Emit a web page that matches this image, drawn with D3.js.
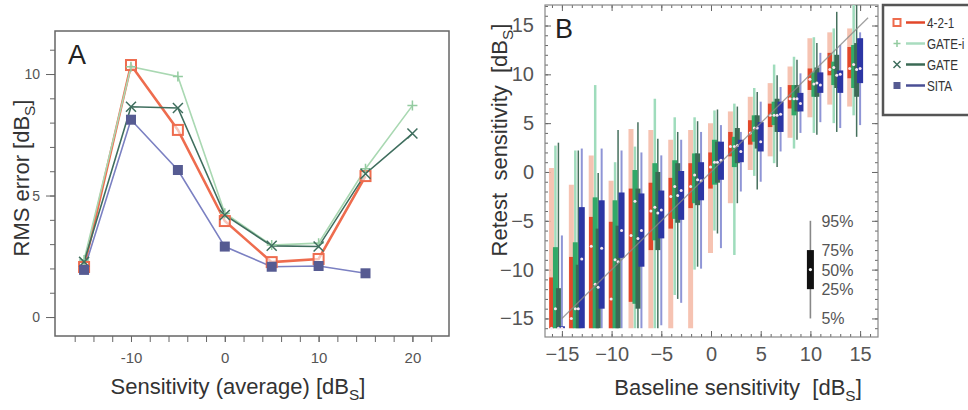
<!DOCTYPE html>
<html lang="en">
<head>
<meta charset="UTF-8">
<title>RMS error and retest sensitivity</title>
<script src="https://d3js.org/d3.v7.min.js"></script>
<style>
  body { margin: 0; background: #fff; font-family: "Liberation Sans", Arial, sans-serif; }
  svg text { white-space: pre; }
  .tick line { stroke: #666; }
  .tick text { fill: #555; }
</style>
</head>
<body>
<svg id="chart" width="968" height="410"></svg>
<script>
// ---- panel A data: RMS error vs average sensitivity ----
const rmsX = [-15, -10, -5, 0, 5, 10, 15, 20];
const rms421 = [2.06, 10.37, 7.7, 3.95, 2.26, 2.39, 5.8, null];
const rmsGateI = [2.35, 10.3, 9.9, 4.27, 2.96, 3.04, 6.1, 8.7];
const rmsGate = [2.27, 8.65, 8.6, 4.2, 2.93, 2.9, 5.9, 7.55];
const rmsSita = [1.94, 8.12, 6.05, 2.9, 2.07, 2.1, 1.8, null];
const rmsYTicks = [0, 5, 10];
const rmsXTicks = [-10, 0, 10, 20];

// ---- panel B data: retest percentiles [5%, 25%, 50%, 75%, 95%] per baseline bin ----
const baseline = [-15.5, -13.5, -11.5, -9.5, -7.5, -5.5, -3.5, -1.5, 0.5, 2.5, 4.5, 6.5, 8.5, 10.5, 12.5, 14.5];
const box421 = [
  [-16, -16, -16, -10.8, 0.4], [-16, -16, -15, -8.7, -1.3], [-16, -16, -7.6, -4.6, 1.7], [-16, -16, -13, -5.1, -0.9],
  [-16, -13.3, -6.5, -1.7, 4.4], [-16, -8, -4, -1.1, 4.3], [-16, -5.8, -2.5, -0.6, 3.3], [-16, -3.7, -1.5, 0.9, 4.3],
  [-8.3, -1.7, 0.5, 2.0, 5.0], [-3.2, 1.6, 2.6, 4.1, 6.2], [0.2, 2.8, 4.0, 5.3, 7.7], [1.6, 4.6, 5.8, 7.0, 9.1],
  [3.5, 6.5, 7.5, 8.9, 10.8], [5.6, 8.4, 9.5, 10.6, 13.7], [6.9, 9.9, 10.5, 12.2, 14.3], [6.7, 9.6, 10.6, 12.8, 14.7]
];
const boxGateI = [
  [-16, -16, -14, -7.7, 2.7], [-16, -16, -14, -7.2, 2.2], [-16, -16, -11.5, -2.6, 8.9], [-16, -16, -9, -2.9, 1.0],
  [-16, -13.5, -3, 0.2, 2.6], [-16, -7, -3.6, 0.9, 7.5], [-12.6, -4.8, -1.5, 1.2, 5.6], [-10, -3.2, -0.3, 1.9, 5.6],
  [-6, -1.3, 1.0, 3.3, 6.3], [-8.5, 0.5, 2.6, 3.6, 7.0], [-0.4, 3.1, 4.5, 5.8, 8.6], [0.9, 4.8, 5.8, 7.2, 11.0],
  [2.4, 5.8, 7.5, 8.9, 11.8], [4.0, 7.7, 9.0, 10.2, 13.8], [5.0, 8.9, 10.7, 11.3, 14.7], [5.8, 8.6, 11.0, 13.0, 17.5]
];
const boxGate = [
  [-16, -16, -16, -11.9, 3.0], [-16, -16, -14, -9.5, 2.2], [-16, -16, -11.8, -5.8, -0.1], [-16, -16, -9.2, -5.5, 4.3],
  [-16, -14, -6.8, -1.7, 5.1], [-16, -8, -4.2, 0, 3.4], [-13, -5.2, -2.4, 0.9, 4.1], [-9.7, -3.4, -0.8, 1.9, 5.2],
  [-6.3, -1.1, 1.0, 3.1, 6.4], [-3.2, 0.9, 2.7, 4.5, 6.7], [-1.8, 2.4, 4.5, 5.8, 8.2], [0.5, 4.1, 5.8, 7.5, 9.9],
  [3.3, 6.2, 7.5, 8.9, 11.5], [3.8, 7.7, 9.1, 10.7, 13.2], [4.1, 8.6, 9.9, 12.0, 16.4], [3.6, 7.7, 10.5, 13.2, 17.5]
];
const boxSita = [
  [-16, -16, -16, -15.8, -6.5], [-16, -16, -8.9, -3.6, 2.4], [-16, -14, -7.8, -2.9, 2.4], [-16, -8.8, -6.0, -2.1, 2.2],
  [-16, -9.7, -6.0, -2.2, 2.0], [-15.7, -6.8, -3.9, -1.9, 1.7], [-13.4, -4.9, -1.9, 0.1, 3.3], [-9.9, -2.9, -0.9, 1.0, 4.1],
  [-7.8, -0.8, 1.2, 3.1, 4.8], [-2.0, 1.0, 2.1, 3.3, 4.1], [-1.0, 2.1, 3.1, 5.1, 7.2], [2.1, 4.1, 5.9, 7.2, 8.7],
  [4.0, 6.2, 7.0, 8.1, 10.1], [5.1, 8.1, 8.9, 10.2, 12.2], [4.5, 8.1, 10.0, 10.4, 13.0], [4.8, 9.1, 10.6, 13.7, 14.3]
];
const retestTicks = [-15, -10, -5, 0, 5, 10, 15];
const keyPercent = ["5%", "25%", "50%", "75%", "95%"];
const keyValues = [-15, -12, -10, -8, -5];

const methods = ["4-2-1", "GATE-i", "GATE", "SITA"];

const svg = d3.select("#chart");

// subscript helper for the "dB_S" unit
function unitLabel(sel, before) {
  sel.append("tspan").text(before + "[dB");
  sel.append("tspan").attr("font-size", "0.7em").attr("dy", 6).text("S");
  sel.append("tspan").attr("dy", -6).text("]");
}

// ================= panel A =================
const xA = d3.scaleLinear().domain([-18.1, 23.9]).range([55, 449]);
const yA = d3.scaleLinear().domain([-0.78, 11.77]).range([336, 31]);
const gA = svg.append("g");

gA.append("rect").attr("x", 55).attr("y", 31).attr("width", 394).attr("height", 305)
  .attr("fill", "none").attr("stroke", "#666").attr("stroke-width", 1.5);

gA.append("g").attr("transform", "translate(55,0)")
  .call(d3.axisLeft(yA).tickValues(d3.range(0, 12)).tickSize(5).tickFormat(""))
  .call(g => g.select(".domain").remove());
gA.append("g").attr("transform", "translate(55,0)")
  .call(d3.axisLeft(yA).tickValues(rmsYTicks).tickSize(9).tickPadding(6))
  .call(g => g.select(".domain").remove())
  .selectAll("text").attr("font-size", 14);

gA.append("g").attr("transform", "translate(0,336)")
  .call(d3.axisBottom(xA).tickValues(d3.range(-16, 23, 2)).tickSize(6).tickFormat(""))
  .call(g => g.select(".domain").remove());
gA.append("g").attr("transform", "translate(0,336)")
  .call(d3.axisBottom(xA).tickValues(rmsXTicks).tickSize(6).tickPadding(10).tickFormat(d => String(d)))
  .call(g => g.select(".domain").remove())
  .selectAll("text").attr("font-size", 15);

const seriesA = [
  { name: "4-2-1", vals: rms421, line: "#ee6c4e", width: 2.6, marker: "osq", mcol: "#ee6c4e" },
  { name: "GATE-i", vals: rmsGateI, line: "#a9d8b2", width: 1.6, marker: "plus", mcol: "#93cba0" },
  { name: "GATE", vals: rmsGate, line: "#3f6e5e", width: 1.6, marker: "cross", mcol: "#3f6e5e" },
  { name: "SITA", vals: rmsSita, line: "#7b80c2", width: 1.6, marker: "fsq", mcol: "#565b92" }
];

const lineA = d3.line().defined(d => d[1] != null).x(d => xA(d[0])).y(d => yA(d[1]));

function drawMarker(g, type, x, y, col, s) {
  if (type === "osq") {
    g.append("rect").attr("x", x - s / 2).attr("y", y - s / 2).attr("width", s).attr("height", s)
      .attr("fill", "#fff").attr("fill-opacity", 0.6).attr("stroke", col).attr("stroke-width", 2);
  } else if (type === "fsq") {
    g.append("rect").attr("x", x - s / 2).attr("y", y - s / 2).attr("width", s).attr("height", s)
      .attr("fill", col);
  } else if (type === "plus") {
    g.append("path").attr("d", `M${x - s / 2},${y}H${x + s / 2}M${x},${y - s / 2}V${y + s / 2}`)
      .attr("stroke", col).attr("stroke-width", 1.5);
  } else {
    const h = s / 2;
    g.append("path").attr("d", `M${x - h},${y - h}L${x + h},${y + h}M${x - h},${y + h}L${x + h},${y - h}`)
      .attr("stroke", col).attr("stroke-width", 1.5);
  }
}

seriesA.forEach(s => {
  const pts = rmsX.map((x, i) => [x, s.vals[i]]);
  gA.append("path").datum(pts).attr("d", lineA)
    .attr("fill", "none").attr("stroke", s.line).attr("stroke-width", s.width);
});
seriesA.forEach(s => {
  rmsX.forEach((x, i) => {
    if (s.vals[i] == null) return;
    drawMarker(gA, s.marker, xA(x), yA(s.vals[i]), s.mcol, 10);
  });
});

gA.append("text").attr("x", 68).attr("y", 64).attr("font-size", 27).attr("fill", "#222").text("A");

gA.append("text").attr("transform", "translate(29,178) rotate(-90)")
  .attr("text-anchor", "middle").attr("font-size", 22).attr("fill", "#333")
  .call(t => unitLabel(t, "RMS error "));
gA.append("text").attr("x", 238).attr("y", 394)
  .attr("text-anchor", "middle").attr("font-size", 22).attr("fill", "#333")
  .call(t => unitLabel(t, "Sensitivity (average) "));

// ================= panel B =================
const xB = d3.scaleLinear().domain([-16.7, 16.8]).range([545, 878]);
const yB = d3.scaleLinear().domain([-16.9, 17.1]).range([337, 5]);
const gB = svg.append("g");

svg.append("defs").append("clipPath").attr("id", "clipB")
  .append("rect").attr("x", 545).attr("y", 5).attr("width", 333).attr("height", 332);

const minorY = d3.range(-16, 18);
const minorX = d3.range(-16, 17);
function frameAxis(axis, tf, vals, size) {
  gB.append("g").attr("transform", tf)
    .call(axis.tickValues(vals).tickSize(size).tickFormat(""))
    .call(g => g.select(".domain").remove())
    .selectAll("line").attr("stroke", "#888");
}
frameAxis(d3.axisLeft(yB), "translate(545,0)", minorY, -3);
frameAxis(d3.axisLeft(yB), "translate(545,0)", retestTicks, -6);
frameAxis(d3.axisRight(yB), "translate(878,0)", minorY, -3);
frameAxis(d3.axisRight(yB), "translate(878,0)", retestTicks, -6);
frameAxis(d3.axisBottom(xB), "translate(0,337)", minorX, -3);
frameAxis(d3.axisBottom(xB), "translate(0,337)", retestTicks, -6);
frameAxis(d3.axisTop(xB), "translate(0,5)", minorX, -3);
frameAxis(d3.axisTop(xB), "translate(0,5)", retestTicks, -6);

const fmtB = d => (d < 0 ? "\u2212" + Math.abs(d) : String(d));
gB.append("g").attr("transform", "translate(545,0)")
  .call(d3.axisLeft(yB).tickValues(retestTicks).tickSize(0).tickPadding(11).tickFormat(fmtB))
  .call(g => g.select(".domain").remove())
  .selectAll("text").attr("font-size", 20).attr("fill", "#444");
gB.append("g").attr("transform", "translate(0,337)")
  .call(d3.axisBottom(xB).tickValues(retestTicks).tickSize(0).tickPadding(10).tickFormat(fmtB))
  .call(g => g.select(".domain").remove())
  .selectAll("text").attr("font-size", 20).attr("fill", "#444");

gB.append("rect").attr("x", 545).attr("y", 5).attr("width", 333).attr("height", 332)
  .attr("fill", "none").attr("stroke", "#888").attr("stroke-width", 1.2);

const seriesB = [
  { data: box421, off: -0.55, bw: 4.5, box: "#e2472a", wcol: "#f5b9a5", ww: 5, wop: 0.85 },
  { data: boxGateI, off: -0.15, bw: 5, box: "#31a968", wcol: "#9fdcbc", ww: 2.5, wop: 1 },
  { data: boxGate, off: 0.15, bw: 5, box: "#3b6a55", wcol: "#46705d", ww: 1.5, wop: 1 },
  { data: boxSita, off: 0.5, bw: 6, box: "#2c36a4", wcol: "#8f95d6", ww: 2, wop: 1 }
];

const plotB = gB.append("g").attr("clip-path", "url(#clipB)");

// whiskers (5%-95%)
seriesB.forEach(s => {
  plotB.append("g").selectAll("line").data(s.data).join("line")
    .attr("x1", (d, i) => xB(baseline[i] + s.off)).attr("x2", (d, i) => xB(baseline[i] + s.off))
    .attr("y1", d => yB(d[0])).attr("y2", d => yB(d[4]))
    .attr("stroke", s.wcol).attr("stroke-width", s.ww).attr("stroke-opacity", s.wop);
});
// boxes (25%-75%)
seriesB.forEach(s => {
  plotB.append("g").selectAll("rect").data(s.data).join("rect")
    .attr("x", (d, i) => xB(baseline[i] + s.off) - s.bw / 2).attr("width", s.bw)
    .attr("y", d => yB(d[3])).attr("height", d => Math.max(1, yB(d[1]) - yB(d[3])))
    .attr("fill", s.box);
});
// medians
seriesB.forEach(s => {
  plotB.append("g").selectAll("circle").data(s.data).join("circle")
    .attr("cx", (d, i) => xB(baseline[i] + s.off)).attr("cy", d => yB(d[2]))
    .attr("r", 1.5).attr("fill", "#f6e8f0");
});

// identity line
plotB.append("line").attr("x1", xB(-15)).attr("y1", yB(-15)).attr("x2", xB(15.8)).attr("y2", yB(15.8))
  .attr("stroke", "#8a8a8a").attr("stroke-width", 1.3).attr("stroke-opacity", 0.8);

// percentile key
const keyX = xB(10);
gB.append("line").attr("x1", keyX).attr("x2", keyX).attr("y1", yB(keyValues[0])).attr("y2", yB(keyValues[4]))
  .attr("stroke", "#888").attr("stroke-width", 1.6);
gB.append("rect").attr("x", keyX - 3.5).attr("width", 7).attr("y", yB(keyValues[3]))
  .attr("height", yB(keyValues[1]) - yB(keyValues[3])).attr("fill", "#111");
gB.append("circle").attr("cx", keyX).attr("cy", yB(keyValues[2])).attr("r", 1.6).attr("fill", "#fff");
gB.append("g").selectAll("text").data(keyPercent).join("text")
  .attr("x", keyX + 11).attr("y", (d, i) => yB(keyValues[i]) + 6)
  .attr("font-size", 16).attr("fill", "#555").text(d => d);

gB.append("text").attr("x", 555).attr("y", 38).attr("font-size", 27).attr("fill", "#222").text("B");

gB.append("text").attr("transform", "translate(507,140) rotate(-90)")
  .attr("text-anchor", "middle").attr("font-size", 22).attr("fill", "#333")
  .call(t => unitLabel(t, "Retest  sensitivity  "));
gB.append("text").attr("x", 738).attr("y", 395)
  .attr("text-anchor", "middle").attr("font-size", 22).attr("fill", "#333")
  .call(t => unitLabel(t, "Baseline sensitivity  "));

// legend
const gL = svg.append("g");
gL.append("rect").attr("x", 883).attr("y", 5).attr("width", 100).attr("height", 110)
  .attr("fill", "#fff").attr("stroke", "#555").attr("stroke-width", 2.5);
const legLine = ["#e2472a", "#a9dcbf", "#3b6a55", "#4a4f95"];
const legRow = d3.scaleBand().domain(methods).range([12, 96]);
methods.forEach((m, i) => {
  const y = legRow(m) + legRow.bandwidth() / 2;
  const s = seriesA[i];
  drawMarker(gL, s.marker, 897, y, s.mcol, 7);
  gL.append("line").attr("x1", 906).attr("x2", 925).attr("y1", y).attr("y2", y)
    .attr("stroke", legLine[i]).attr("stroke-width", 2.5);
  // narrow lettering, as in the original legend
  gL.append("text").attr("transform", `translate(927,${y + 5}) scale(0.78,1)`)
    .attr("font-size", 15).attr("fill", "#333").text(m);
});
</script>
</body>
</html>
